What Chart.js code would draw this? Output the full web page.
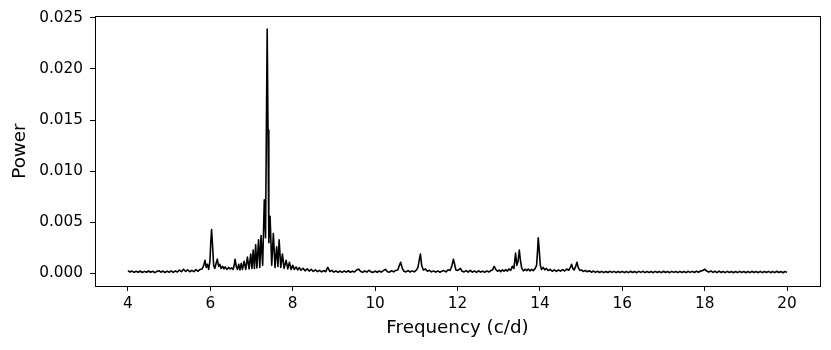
<!DOCTYPE html>
<html>
<head>
<meta charset="utf-8">
<script src="https://cdn.jsdelivr.net/npm/chart.js@4/dist/chart.umd.min.js"></script>
<style>
html,body{margin:0;padding:0;background:#fff;}
#wrap{width:831px;height:350px;position:relative;}
</style>
</head>
<body>
<div id="wrap"><canvas id="c" width="831" height="350"></canvas></div>
<script>
const xTicks = [4, 6, 8, 10, 12, 14, 16, 18, 20];
const yTicks = [0.000, 0.005, 0.010, 0.015, 0.020, 0.025];

const freq = [
  4.00,4.05,4.10,4.15,4.20,4.25,4.30,4.35,4.40,4.45,
  4.50,4.55,4.60,4.65,4.70,4.75,4.80,4.85,4.90,4.95,
  5.00,5.05,5.10,5.15,5.20,5.25,5.30,5.35,5.40,5.45,
  5.50,5.55,5.60,5.65,5.70,5.75,5.80,
  5.84,5.87,5.90,5.93,5.96,5.99,6.01,6.03,6.05,6.08,
  6.11,6.14,6.17,6.20,6.23,6.26,6.30,6.33,6.36,6.40,
  6.44,6.48,6.52,6.55,6.58,6.60,6.63,6.66,6.69,6.72,
  6.75,6.78,6.82,6.86,6.90,6.94,6.98,7.01,7.04,7.07,
  7.10,7.13,7.17,7.20,7.23,7.27,7.31,7.34,7.36,7.38,
  7.40,7.42,7.45,7.49,7.53,7.57,7.61,7.64,7.67,7.71,
  7.75,7.79,7.84,7.88,7.92,7.96,8.00,8.04,8.08,8.12,
  8.16,8.20,8.25,8.30,8.35,8.40,8.45,8.50,8.55,8.60,
  8.65,8.70,8.75,8.80,8.85,8.90,8.95,9.00,
  9.05,9.10,9.15,9.20,9.25,9.30,9.35,9.40,9.45,9.50,
  9.55,9.60,9.65,9.70,9.75,9.80,9.85,9.90,9.95,10.00,
  10.05,10.10,10.15,10.20,10.25,10.30,10.35,10.40,10.45,10.50,
  10.55,10.58,10.62,10.66,10.70,10.75,10.80,10.85,10.90,10.95,
  11.00,11.04,11.08,11.10,11.13,11.17,11.22,11.27,11.32,11.37,
  11.42,11.47,11.52,11.57,11.62,11.67,11.72,11.77,11.82,11.86,
  11.90,11.93,11.96,12.00,12.04,12.07,12.11,12.16,12.21,12.26,
  12.31,12.36,12.41,12.46,12.51,12.56,12.61,12.66,12.71,12.76,
  12.81,12.85,12.89,12.93,12.97,13.01,13.05,13.09,13.13,13.17,
  13.21,13.25,13.29,13.33,13.37,13.41,13.44,13.47,13.50,13.53,
  13.56,13.60,13.64,13.68,13.72,13.76,13.80,13.84,13.88,13.92,
  13.94,13.96,13.98,14.01,14.04,14.08,14.12,14.16,14.20,14.25,
  14.30,14.35,14.40,14.45,14.50,14.55,14.60,14.65,14.70,14.74,
  14.77,14.80,14.83,14.87,14.90,14.93,14.97,15.01,15.05,15.10,
  15.15,15.20,15.25,15.30,15.35,15.40,15.45,15.50,15.55,15.60,
  15.65,15.70,15.75,15.80,15.85,15.90,15.95,16.00,16.05,16.10,
  16.15,16.20,16.25,16.30,16.35,16.40,16.45,16.50,16.55,16.60,
  16.65,16.70,16.75,16.80,16.85,16.90,16.95,17.00,17.05,17.10,
  17.15,17.20,17.25,17.30,17.35,17.40,17.45,17.50,17.55,17.60,
  17.65,17.70,17.75,17.80,17.85,17.90,17.95,18.00,18.05,18.10,
  18.15,18.20,18.25,18.30,18.35,18.40,18.45,18.50,18.55,18.60,
  18.65,18.70,18.75,18.80,18.85,18.90,18.95,19.00,19.05,19.10,
  19.15,19.20,19.25,19.30,19.35,19.40,19.45,19.50,19.55,19.60,
  19.65,19.70,19.75,19.80,19.85,19.90,19.95,20.00
];

const power = [
  0.00028,0.00014,0.00024,0.00011,0.00022,0.00012,0.00024,0.00010,0.00021,0.00012,
  0.00025,0.00012,0.00022,0.00009,0.00020,0.00027,0.00013,0.00024,0.00010,0.00023,
  0.00012,0.00026,0.00011,0.00025,0.00015,0.00033,0.00018,0.00042,0.00020,0.00035,
  0.00017,0.00031,0.00019,0.00038,0.00022,0.00040,0.00045,
  0.00080,0.00130,0.00060,0.00090,0.00040,0.00120,0.00300,0.00430,0.00300,0.00080,
  0.00050,0.00100,0.00140,0.00070,0.00090,0.00050,0.00070,0.00045,0.00065,0.00040,
  0.00060,0.00045,0.00055,0.00040,0.00080,0.00140,0.00070,0.00040,0.00090,0.00035,
  0.00100,0.00040,0.00120,0.00040,0.00160,0.00045,0.00190,0.00050,0.00230,0.00050,
  0.00280,0.00055,0.00330,0.00060,0.00370,0.00080,0.00720,0.00350,0.01400,0.02390,
  0.01400,0.00300,0.00560,0.00080,0.00390,0.00060,0.00260,0.00070,0.00330,0.00060,
  0.00190,0.00050,0.00130,0.00045,0.00110,0.00040,0.00080,0.00040,0.00065,0.00035,
  0.00058,0.00032,0.00052,0.00026,0.00045,0.00024,0.00040,0.00020,0.00035,0.00018,
  0.00031,0.00016,0.00029,0.00018,0.00060,0.00020,0.00031,0.00014,
  0.00026,0.00012,0.00024,0.00011,0.00025,0.00013,0.00027,0.00012,0.00023,0.00015,
  0.00034,0.00043,0.00019,0.00012,0.00026,0.00013,0.00032,0.00016,0.00011,0.00024,
  0.00012,0.00025,0.00014,0.00028,0.00041,0.00018,0.00013,0.00027,0.00016,0.00030,
  0.00035,0.00070,0.00110,0.00050,0.00022,0.00016,0.00029,0.00015,0.00026,0.00016,
  0.00032,0.00060,0.00150,0.00190,0.00080,0.00035,0.00045,0.00022,0.00031,0.00016,
  0.00026,0.00014,0.00025,0.00013,0.00023,0.00029,0.00016,0.00036,0.00030,0.00070,
  0.00140,0.00090,0.00035,0.00030,0.00040,0.00050,0.00022,0.00016,0.00029,0.00014,
  0.00031,0.00013,0.00025,0.00011,0.00027,0.00014,0.00023,0.00012,0.00026,0.00015,
  0.00029,0.00035,0.00070,0.00040,0.00022,0.00034,0.00018,0.00036,0.00022,0.00038,
  0.00024,0.00045,0.00030,0.00070,0.00050,0.00200,0.00080,0.00120,0.00230,0.00120,
  0.00050,0.00026,0.00042,0.00028,0.00044,0.00026,0.00040,0.00028,0.00046,0.00080,
  0.00200,0.00350,0.00250,0.00080,0.00040,0.00060,0.00035,0.00050,0.00030,0.00040,
  0.00022,0.00036,0.00021,0.00034,0.00023,0.00038,0.00025,0.00044,0.00032,0.00060,
  0.00090,0.00050,0.00035,0.00070,0.00110,0.00060,0.00030,0.00035,0.00020,0.00029,
  0.00017,0.00027,0.00013,0.00024,0.00011,0.00022,0.00010,0.00021,0.00009,0.00020,
  0.00010,0.00022,0.00011,0.00021,0.00009,0.00020,0.00010,0.00021,0.00008,0.00019,
  0.00009,0.00022,0.00010,0.00020,0.00008,0.00021,0.00011,0.00022,0.00009,0.00020,
  0.00010,0.00019,0.00008,0.00021,0.00010,0.00020,0.00009,0.00022,0.00010,0.00019,
  0.00008,0.00021,0.00011,0.00020,0.00009,0.00021,0.00010,0.00019,0.00009,0.00022,
  0.00011,0.00021,0.00010,0.00023,0.00012,0.00025,0.00028,0.00042,0.00024,0.00014,
  0.00025,0.00011,0.00022,0.00009,0.00023,0.00010,0.00020,0.00009,0.00021,0.00010,
  0.00019,0.00008,0.00020,0.00009,0.00021,0.00010,0.00019,0.00008,0.00020,0.00009,
  0.00022,0.00010,0.00019,0.00008,0.00021,0.00009,0.00020,0.00010,0.00021,0.00008,
  0.00019,0.00009,0.00022,0.00010,0.00019,0.00008,0.00020,0.00011
];

const points = freq.map((f, i) => ({x: f, y: power[i]}));

const frameBox = {
  id: 'frameBox',
  afterDraw(chart) {
    const {ctx, chartArea: a} = chart;
    ctx.save();
    ctx.strokeStyle = '#000';
    ctx.lineWidth = 1;
    ctx.strokeRect(Math.round(a.left) + 0.5, Math.round(a.top) + 0.5,
                   Math.round(a.right - a.left), Math.round(a.bottom - a.top));
    ctx.restore();
  }
};

new Chart(document.getElementById('c'), {
  type: 'line',
  data: {
    datasets: [{
      data: points,
      borderColor: '#000',
      borderWidth: 1.6,
      borderJoinStyle: 'round',
      pointRadius: 0,
      tension: 0,
      fill: false
    }]
  },
  options: {
    responsive: false,
    animation: false,
    events: [],
    layout: {padding: {left: 0, right: 11, top: 16, bottom: 0}},
    plugins: {legend: {display: false}, tooltip: {enabled: false}},
    scales: {
      x: {
        type: 'linear',
        min: 3.2,
        max: 20.8,
        afterBuildTicks(scale) { scale.ticks = xTicks.map(v => ({value: v})); },
        afterFit(scale) { scale.height = 64; },
        grid: {drawOnChartArea: false, drawTicks: true, tickLength: 5, color: '#000', tickWidth: 1},
        border: {display: true, color: '#000', width: 1},
        ticks: {
          color: '#000', padding: 4, maxRotation: 0,
          font: {family: 'DejaVu Sans', size: 15.3},
          callback: v => String(v)
        },
        title: {
          display: true, text: 'Frequency (c/d)', color: '#000',
          font: {family: 'DejaVu Sans', size: 18.3},
          padding: {top: 0, bottom: 11}
        }
      },
      y: {
        type: 'linear',
        min: -0.00122,
        max: 0.02515,
        afterBuildTicks(scale) { scale.ticks = yTicks.map(v => ({value: v})); },
        afterFit(scale) { scale.width = 95; },
        grid: {drawOnChartArea: false, drawTicks: true, tickLength: 5, color: '#000', tickWidth: 1},
        border: {display: true, color: '#000', width: 1},
        ticks: {
          color: '#000', padding: 7,
          font: {family: 'DejaVu Sans', size: 15.3},
          callback: v => Number(v).toFixed(3)
        },
        title: {
          display: true, text: 'Power', color: '#000',
          font: {family: 'DejaVu Sans', size: 18.3},
          padding: {top: 9, bottom: 0}
        }
      }
    }
  },
  plugins: [frameBox]
});
</script>
</body>
</html>
